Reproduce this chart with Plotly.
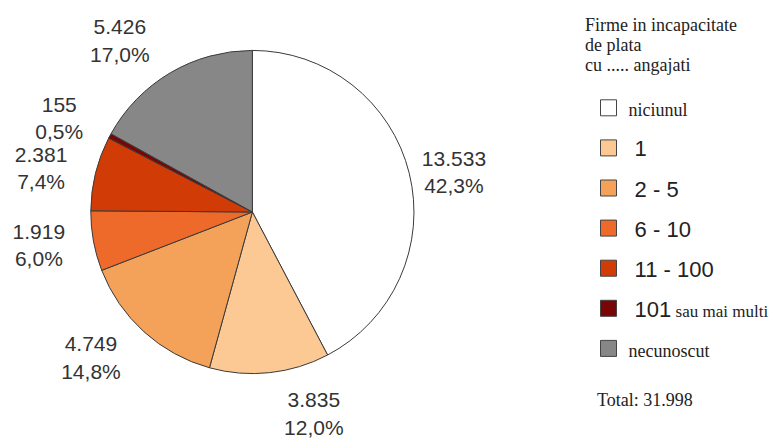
import plotly.graph_objects as go

categories = ["niciunul", "1", "2 - 5", "6 - 10", "11 - 100", "101", "necunoscut"]
values = [13533, 3835, 4749, 1919, 2381, 155, 5426]
colors = ["#ffffff", "#fcc995", "#f4a259", "#ee6a2a", "#d13b06", "#7a0505", "#878787"]
legend_suffix = ["", "", "", "", "", " sau mai multi", ""]
serif_items = {"niciunul", "necunoscut"}
title_lines = ["Firme in incapacitate", "de plata", "cu ..... angajati"]
total_text = "Total: 31.998"

SERIF = "Liberation Serif, Times New Roman, serif"
SANS = "Liberation Sans, Arial, sans-serif"
W, H = 778, 439
OFF = 8  # page body margin in the browser

def px(x):
    return (x - OFF) / W

def py(y):
    return 1 - (y - OFF) / H

CX, CY, R = 251, 212, 162      # main pie (screen px)
RL = 178                        # radius used for the outer labels
LABEL_COLOR = "#333333"

span = f"<span style='color:{LABEL_COLOR};fill-opacity:1'>"
tmpl = f"{span}%{{value:,}}</span><br>{span}%{{percent:.1%}}</span>"

fig = go.Figure()

# visible pie (carries the label of the first, large slice)
fig.add_trace(go.Pie(
    labels=categories, values=values,
    marker=dict(colors=colors, line=dict(color="#3a3a3a", width=1)),
    sort=False, direction="clockwise", rotation=0,
    textposition=["outside"] + ["none"] * (len(values) - 1),
    texttemplate=tmpl,
    textfont=dict(family=SANS, size=21, color=LABEL_COLOR),
    showlegend=False, hoverinfo="skip",
    domain=dict(x=[px(CX - R), px(CX + R)], y=[py(CY + R), py(CY - R)]),
))

# transparent pie of the same data, slightly larger, carrying the other labels
fig.add_trace(go.Pie(
    labels=categories, values=values,
    marker=dict(colors=["rgba(0,0,0,0)"] * len(values), line=dict(width=0)),
    sort=False, direction="clockwise", rotation=0,
    textposition=["none"] + ["outside"] * (len(values) - 1),
    texttemplate=tmpl,
    textfont=dict(family=SANS, size=21, color="rgba(0,0,0,0)"),
    showlegend=False, hoverinfo="skip",
    domain=dict(x=[px(CX - RL), px(CX + RL)], y=[py(CY + RL), py(CY - RL)]),
))

for i, (cat, col, suf) in enumerate(zip(categories, colors, legend_suffix)):
    if cat in serif_items:
        name = f'<span style="font-family:{SERIF};font-size:18px">{cat}</span>'
    else:
        name = "\u00a0" + cat
        if suf:
            name += f'<span style="font-family:{SERIF};font-size:17px">{suf}</span>'
    fig.add_trace(go.Scatter(
        x=[None], y=[None], mode="markers", name=name,
        legendgroup=f"g{i}",
        marker=dict(symbol="square", size=16, color=col,
                    line=dict(color="#444444", width=1)),
        hoverinfo="skip",
    ))

annotations = []
for j, line in enumerate(title_lines):
    annotations.append(dict(
        text=line, x=px(582), y=py(25 + 20 * j),
        xref="paper", yref="paper", xanchor="left", yanchor="middle",
        showarrow=False, font=dict(family=SERIF, size=18, color="#222222"),
    ))
annotations.append(dict(
    text=total_text, x=px(595), y=py(400),
    xref="paper", yref="paper", xanchor="left", yanchor="middle",
    showarrow=False, font=dict(family=SERIF, size=18, color="#222222"),
))

fig.update_layout(
    width=W, height=H,
    margin=dict(l=0, r=0, t=0, b=0),
    paper_bgcolor="white", plot_bgcolor="white",
    separators=",.",
    xaxis=dict(visible=False), yaxis=dict(visible=False),
    showlegend=True,
    legend=dict(
        x=px(588), y=py(87), xanchor="left", yanchor="top",
        font=dict(family=SANS, size=22, color="#222222"),
        tracegroupgap=8.5, bgcolor="rgba(0,0,0,0)",
    ),
    annotations=annotations,
)

fig.write_html("out.html")
